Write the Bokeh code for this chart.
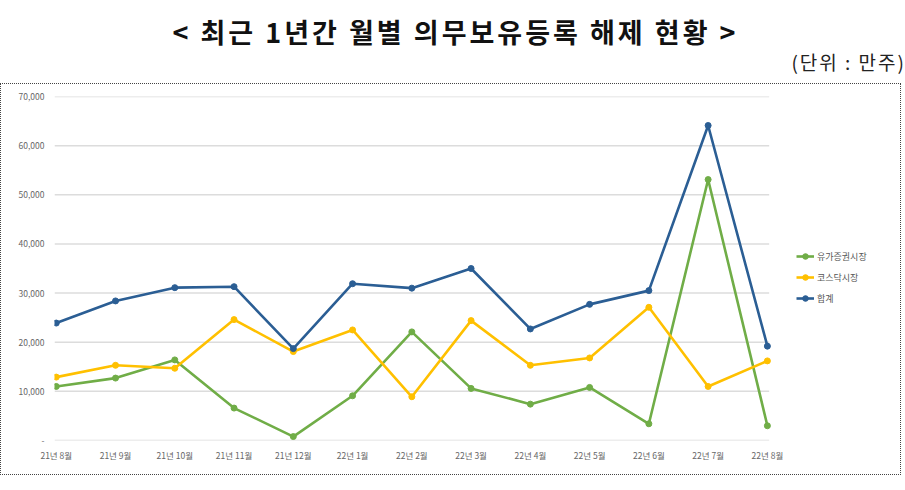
from bokeh.plotting import figure
from bokeh.models import Range1d, FixedTicker, NumeralTickFormatter, Legend, LegendItem, Div
from bokeh.layouts import column
from bokeh.embed import file_html
from bokeh.resources import INLINE

# 월별 의무보유등록 해제 (단위: 만주)
months = ["21년 8월", "21년 9월", "21년 10월", "21년 11월", "21년 12월", "22년 1월", "22년 2월",
          "22년 3월", "22년 4월", "22년 5월", "22년 6월", "22년 7월", "22년 8월"]
kospi = [11000, 12700, 16400, 6600, 800, 9100, 22100, 10600, 7400, 10800, 3400, 53100, 3000]
kosdaq = [12900, 15300, 14700, 24600, 18100, 22500, 8900, 24400, 15300, 16800, 27100, 11000, 16200]
total = [23900, 28400, 31100, 31300, 18700, 31900, 31000, 35000, 22700, 27700, 30500, 64100, 19200]
yticks = [0, 10000, 20000, 30000, 40000, 50000, 60000, 70000]

series = [("유가증권시장", kospi, "#70ad47"),
          ("코스닥시장", kosdaq, "#ffc000"),
          ("합계", total, "#2b5e94")]

FONT = "Noto Sans CJK KR"
xs = list(range(len(months)))
W = 901

header = Div(
    text=(
        f'<div style="font-family:\'{FONT}\';width:{W}px;">'
        f'<div style="text-align:center;font-size:27px;font-weight:bold;letter-spacing:3px;'
        f'line-height:30px;padding-top:12px;color:#111;">&lt; 최근 1년간 월별 의무보유등록 해제 현황 &gt;</div>'
        f'<div style="text-align:right;font-size:19px;letter-spacing:2px;line-height:22px;'
        f'margin-top:4px;padding-right:0px;color:#222;">(단위 : 만주)</div></div>'
    ),
    width=W, height=73,
)

# 범례 자리를 위해 x축을 오른쪽으로 넓힘
p = figure(width=W, height=392, output_backend="svg", toolbar_location=None,
           x_range=Range1d(-0.03, 14.28), y_range=Range1d(0, 70000),
           min_border_left=53, min_border_right=0, min_border_top=12, min_border_bottom=36)
p.styles = {"border": "1px dotted #444"}
p.outline_line_color = None
p.background_fill_color = "white"
p.border_fill_color = "white"

p.xgrid.grid_line_color = None
p.ygrid.grid_line_color = None
# 가로 눈금선 (데이터 구간까지만)
p.segment(x0=[xs[0] - 0.03] * len(yticks), x1=[xs[-1] + 0.03] * len(yticks),
          y0=yticks, y1=yticks, line_color="#dcdcdc", line_width=1.5)

p.yaxis.ticker = FixedTicker(ticks=yticks)
p.yaxis.formatter = NumeralTickFormatter(format="0,0")
p.yaxis.major_label_overrides = {0: "-"}
p.xaxis.ticker = FixedTicker(ticks=xs)
p.xaxis.major_label_overrides = {i: m for i, m in enumerate(months)}

for ax in (p.xaxis, p.yaxis):
    ax.axis_line_color = None
    ax.major_tick_line_color = None
    ax.minor_tick_line_color = None
    ax.major_label_text_font = FONT
    ax.major_label_text_font_size = "8.5px"
    ax.major_label_text_color = "#666666"
p.yaxis.major_label_standoff = 4
p.xaxis.major_label_standoff = 2

items = []
for name, vals, color in series:
    ln = p.line(xs, vals, line_color=color, line_width=2.6)
    mk = p.scatter(xs, vals, size=6, fill_color=color, line_color=color)
    items.append(LegendItem(label=name, renderers=[ln, mk]))

legend = Legend(items=items, location=(742, 135), orientation="vertical",
                label_text_font=FONT, label_text_font_size="9px", label_text_color="#555555",
                glyph_width=18, glyph_height=14, label_height=14, spacing=7,
                label_standoff=3, padding=0, margin=0,
                border_line_color=None, background_fill_alpha=0)
p.add_layout(legend)

layout = column(header, p)
open("out.html", "w").write(file_html(layout, INLINE))
